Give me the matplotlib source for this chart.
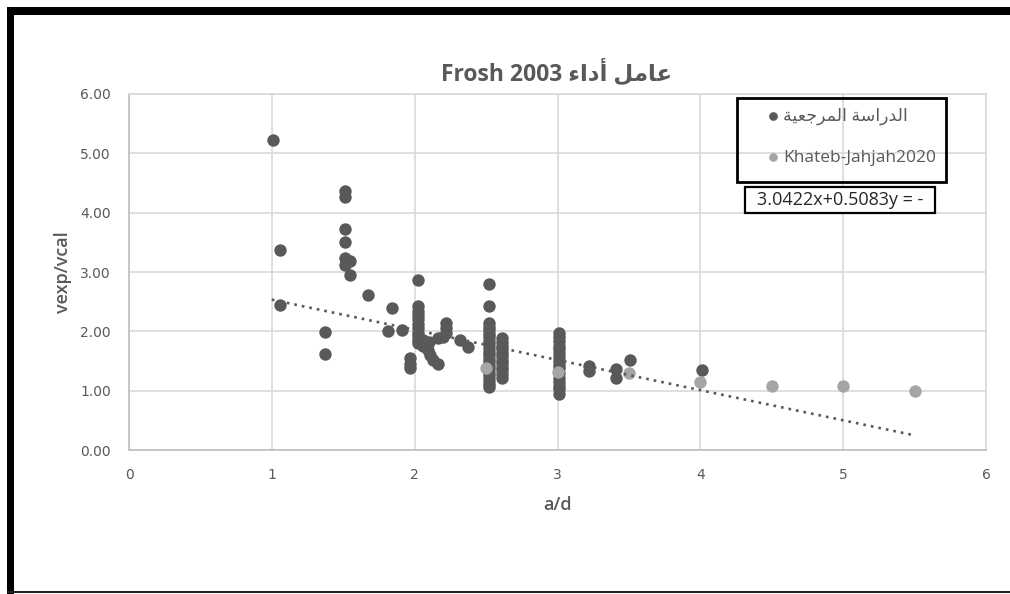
import matplotlib
matplotlib.use("Agg")
import matplotlib.pyplot as plt
from matplotlib.patches import Rectangle
import numpy as np

plt.rcParams['font.family'] = ['Open Sans', 'DejaVu Sans']

# Arabic strings written in visual (left-to-right) presentation forms
title_text = "Frosh 2003 " + "\uFE80\uFE8D\uFEA9\uFE83" + " " + "\uFEDE\uFEE3\uFE8E\uFECB"
ref_label = ("\uFE94\uFEF4\uFECC\uFE9F\uFEAE\uFEE4\uFEDF\uFE8D" + " "
             + "\uFE94\uFEB3\uFE8D\uFEAD\uFEAA\uFEDF\uFE8D")
kj_label = "Khateb-Jahjah2020"
eq_label = "3.0422x+0.5083y = -"
x_label = "a/d"
y_label = "vexp/vcal"

# Reference study points
ref_x = ([1.01, 1.06, 1.06, 1.37, 1.37,
          1.51, 1.51, 1.51, 1.51, 1.51, 1.55, 1.51, 1.55,
          1.67, 1.84, 1.81, 1.91]
         + [2.02] * 11
         + [1.97, 1.97, 1.97,
            2.06, 2.09, 2.11, 2.13, 2.16,
            2.06, 2.10, 2.16, 2.20, 2.22, 2.22, 2.22,
            2.32, 2.37]
         + [2.52] * 21
         + [2.61] * 12
         + [3.01] * 16
         + [3.22, 3.22, 3.41, 3.41, 3.51, 4.01])
ref_y = ([5.23, 3.37, 2.45, 1.99, 1.62,
          4.37, 4.27, 3.73, 3.50, 3.24, 3.19, 3.12, 2.95,
          2.61, 2.39, 2.00, 2.03]
         + [2.87, 2.42, 2.35, 2.28, 2.20, 2.12, 2.05, 1.98, 1.92, 1.86, 1.80]
         + [1.55, 1.45, 1.38,
            1.75, 1.68, 1.60, 1.52, 1.45,
            1.85, 1.82, 1.88, 1.90, 1.98, 2.06, 2.14,
            1.85, 1.73]
         + [2.80, 2.43, 2.14, 2.08, 2.02, 1.96, 1.90, 1.84, 1.78, 1.72, 1.66,
            1.60, 1.54, 1.48, 1.42, 1.36, 1.30, 1.24, 1.18, 1.12, 1.06]
         + [1.88, 1.82, 1.76, 1.70, 1.64, 1.58, 1.52, 1.46, 1.40, 1.34, 1.28, 1.22]
         + [1.97, 1.90, 1.83, 1.76, 1.70, 1.63, 1.56, 1.50, 1.44, 1.38, 1.30,
            1.22, 1.15, 1.08, 1.02, 0.95]
         + [1.41, 1.33, 1.36, 1.22, 1.52, 1.35])

# Khateb-Jahjah 2020 points
kj_x = [2.5, 3.0, 3.5, 4.0, 4.5, 5.0, 5.5]
kj_y = [1.38, 1.32, 1.30, 1.15, 1.08, 1.08, 1.00]

# Linear trendline y = slope * x + intercept
slope = -0.5083
intercept = 3.0422
trend_range = [1.0, 5.5]

x_ticks = [0, 1, 2, 3, 4, 5, 6]
y_ticks = [0, 1, 2, 3, 4, 5, 6]

W, H = 1010, 594
fig = plt.figure(figsize=(W / 100, H / 100), dpi=100)
fig.patch.set_facecolor("white")


def fx(px):
    return px / W


def fy(py):
    return 1 - py / H


ax = fig.add_axes([fx(129), fy(450), (986 - 129) / W, (450 - 94) / H])
ax.set_xlim(0, 6)
ax.set_ylim(0, 6)

dark = "#595959"
light = "#a5a5a5"
grid = "#d9d9d9"

ax.scatter(ref_x, ref_y, s=80, color=dark, zorder=3, linewidths=0, label=ref_label)
ax.scatter(kj_x, kj_y, s=80, color=light, zorder=4, linewidths=0, label=kj_label)

tx = np.array(trend_range)
ax.plot(tx, slope * tx + intercept, color=dark, lw=1.9,
        linestyle=(0, (1, 1.9)), zorder=5)

ax.set_xticks(x_ticks)
ax.set_yticks(y_ticks)
ax.set_yticklabels([f"{v:.2f}" for v in y_ticks])
ax.tick_params(length=0, colors=dark, labelsize=10, pad=13)
for lab in ax.get_xticklabels() + ax.get_yticklabels():
    lab.set_color(dark)
    lab.set_family(["DejaVu Sans"])
ax.grid(True, color=grid, lw=1.2, zorder=0)
ax.set_axisbelow(True)
for side in ["top", "right"]:
    ax.spines[side].set_color(grid)
for side in ["left", "bottom"]:
    ax.spines[side].set_color("#bfbfbf")
for sp in ax.spines.values():
    sp.set_linewidth(1.2)

ax.set_xlabel(x_label, fontsize=13, color=dark, fontweight="semibold", labelpad=10)
ax.set_ylabel(y_label, fontsize=13, color=dark, fontweight="semibold", labelpad=6)

fig.text(fx(557), fy(73), title_text, ha="center", va="center",
         fontsize=16.5, color=dark, fontweight="bold")

# Legend entries, with a separately drawn black frame
leg = ax.legend(loc="upper left", bbox_to_anchor=(fx(766), fy(108)),
                bbox_transform=fig.transFigure, fontsize=12.5,
                frameon=False, borderpad=0, labelspacing=1.4,
                handletextpad=0.2, handlelength=0.8,
                borderaxespad=0, markerscale=0.7)
for t in leg.get_texts():
    t.set_color(dark)
fig.add_artist(Rectangle((fx(737), fy(182)), (946 - 737) / W, (182 - 98) / H,
                         transform=fig.transFigure, facecolor="none",
                         edgecolor="black", lw=2, zorder=6))

# Trendline equation box
fig.add_artist(Rectangle((fx(745), fy(213)), (935 - 745) / W, (213 - 187) / H,
                         transform=fig.transFigure, facecolor="white",
                         edgecolor="black", lw=1.6, zorder=6))
fig.text(fx(840), fy(200), eq_label, ha="center", va="center",
         fontsize=13, color="#262626", zorder=7)

# Outer frame: heavy top and left edges, thin bottom edge
fig.add_artist(Rectangle((fx(7), fy(15)), 1 - 7 / W, 8 / H,
                         transform=fig.transFigure, color="black", lw=0))
fig.add_artist(Rectangle((fx(7), 0), 7 / W, 1 - 7 / H,
                         transform=fig.transFigure, color="black", lw=0))
fig.add_artist(Rectangle((fx(7), 1 / H), 1 - 7 / W, 2.5 / H,
                         transform=fig.transFigure, color="#222222", lw=0))

fig.savefig("out.png", dpi=100, facecolor="white")
